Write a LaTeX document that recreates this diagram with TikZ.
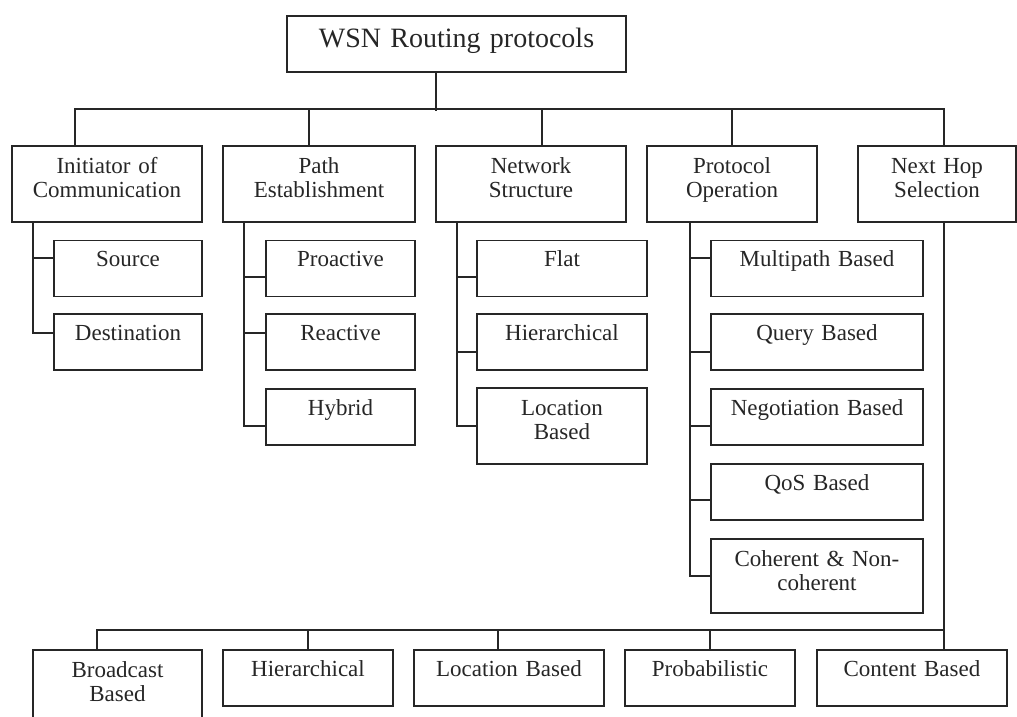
\documentclass[tikz,border=0pt]{standalone}
\usepackage{fontspec}
\setmainfont{Liberation Serif}
\newcommand{\boxfont}{\fontsize{23}{24}\selectfont}
\begin{document}
\begin{tikzpicture}[x=1pt, y=-1pt, line width=1.6pt, color=black!85,
    baseStyle/.style={rectangle, draw, inner sep=0pt, align=center, font=\boxfont},
    rootStyle/.style={baseStyle, text width=339pt, text height=32pt, text depth=24pt, font=\fontsize{28}{30}\selectfont},
    catStyle/.style={baseStyle, text height=27pt, text depth=49pt},
    leafStyle/.style={baseStyle, text height=26pt, text depth=30pt},
    tallStyle/.style={baseStyle, text height=27pt, text depth=49pt}]
    \useasboundingbox (0,0) rectangle (1017,717);

    \node[rootStyle] (root) at (456.5, 44) {WSN Routing protocols};

    \node[catStyle, text width=190pt] (init) at (107, 184) {Initiator of\\Communication};
    \node[catStyle, text width=192pt] (path) at (319, 184) {Path\\Establishment};
    \node[catStyle, text width=190pt] (netw) at (531, 184) {Network\\Structure};
    \node[catStyle, text width=170pt] (prot) at (732, 184) {Protocol\\Operation};
    \node[catStyle, text width=158pt] (hop)  at (937, 184) {Next Hop\\Selection};

    \node[leafStyle, text width=148pt] (init_src) at (128, 268.5) {Source};
    \node[leafStyle, text width=148pt] (init_dst) at (128,   342) {Destination};

    \node[leafStyle, text width=149pt] (path_pro) at (340.5, 268.5) {Proactive};
    \node[leafStyle, text width=149pt] (path_rea) at (340.5,   342) {Reactive};
    \node[leafStyle, text width=149pt] (path_hyb) at (340.5,   417) {Hybrid};

    \node[leafStyle, text width=170pt] (netw_flat) at (562, 268.5) {Flat};
    \node[leafStyle, text width=170pt] (netw_hier) at (562,   342) {Hierarchical};
    \node[tallStyle, text width=170pt] (netw_loc)  at (562,   426) {Location\\Based};

    \node[leafStyle, text width=212pt] (prot_multi) at (817, 268.5) {Multipath Based};
    \node[leafStyle, text width=212pt] (prot_query) at (817,   342) {Query Based};
    \node[leafStyle, text width=212pt] (prot_nego)  at (817,   417) {Negotiation Based};
    \node[leafStyle, text width=212pt] (prot_qos)   at (817,   492) {QoS Based};
    \node[tallStyle, text width=212pt, text depth=47pt] (prot_coh) at (817, 576) {Coherent \& Non-\\coherent};

    \node[tallStyle, text width=169pt, text depth=45pt] (hop_bc) at (117.5, 686) {Broadcast\\Based};
    \node[leafStyle, text width=170pt] (hop_hier) at (308, 678) {Hierarchical};
    \node[leafStyle, text width=190pt] (hop_loc)  at (509, 678) {Location Based};
    \node[leafStyle, text width=170pt] (hop_prob) at (710, 678) {Probabilistic};
    \node[leafStyle, text width=190pt] (hop_cont) at (912, 678) {Content Based};

    % top bus
    \draw ([xshift=-20.5pt]root.south) -- ++(0,38);
    \draw ([xshift=-32pt]init.north) -- ++(0,-36) -| ([xshift=7pt]hop.north);
    \draw ([xshift=-10pt]path.north) -- ++(0,-36);
    \draw ([xshift=11pt]netw.north) -- ++(0,-36);
    \draw (prot.north) -- ++(0,-36);

    % initiator of communication
    \draw ([xshift=-74pt]init.south) |- ([yshift=10.5pt]init_src.west);
    \draw ([xshift=-74pt]init.south) |- ([yshift=9pt]init_dst.west);

    % path establishment
    \draw ([xshift=-75pt]path.south) |- ([yshift=-8.5pt]path_pro.west);
    \draw ([xshift=-75pt]path.south) |- ([yshift=9pt]path_rea.west);
    \draw ([xshift=-75pt]path.south) |- ([yshift=-9pt]path_hyb.west);

    % network structure
    \draw ([xshift=-74pt]netw.south) |- ([yshift=-8.5pt]netw_flat.west);
    \draw ([xshift=-74pt]netw.south) |- ([yshift=-10pt]netw_hier.west);
    \draw ([xshift=-74pt]netw.south) |- (netw_loc.west);

    % protocol operation
    \draw ([xshift=-42pt]prot.south) |- ([yshift=10.5pt]prot_multi.west);
    \draw ([xshift=-42pt]prot.south) |- ([yshift=-10pt]prot_query.west);
    \draw ([xshift=-42pt]prot.south) |- ([yshift=-9pt]prot_nego.west);
    \draw ([xshift=-42pt]prot.south) |- ([yshift=-8pt]prot_qos.west);
    \draw ([xshift=-42pt]prot.south) |- (prot_coh.west);

    % next hop selection
    \draw ([xshift=7pt]hop.south) -- ([xshift=32pt]hop_cont.north);
    \draw ([xshift=-20.5pt]hop_bc.north) -- ++(0,-19) -| ([xshift=32pt]hop_cont.north);
    \draw (hop_hier.north) -- ++(0,-19);
    \draw ([xshift=-11pt]hop_loc.north) -- ++(0,-19);
    \draw (hop_prob.north) -- ++(0,-19);
\end{tikzpicture}
\end{document}
